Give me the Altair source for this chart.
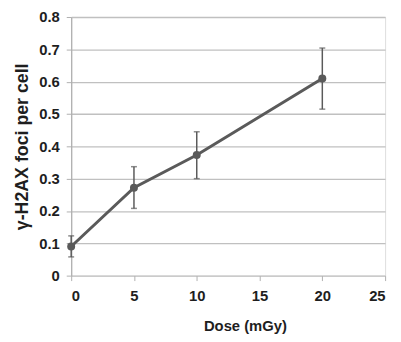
import altair as alt
import pandas as pd

dose = [0, 5, 10, 20]
foci = [0.09, 0.272, 0.373, 0.61]
err_low = [0.058, 0.208, 0.300, 0.515]
err_high = [0.123, 0.337, 0.445, 0.704]

df = pd.DataFrame({"dose": dose, "foci": foci, "lo": err_low, "hi": err_high})

FONT = "Liberation Sans"
DARK = "#5a5a5a"
TXT = "#1e1e1e"

x_axis = alt.Axis(values=[0, 5, 10, 15, 20, 25], title="Dose (mGy)", grid=False,
                  domain=False, tickSize=5, tickColor="#b0b0b0", labelPadding=8,
                  labelFontSize=15, labelFontWeight="bold", labelColor=TXT,
                  labelFont=FONT, titleFont=FONT, titleFontSize=15, labelOverlap=False,
                  titleFontWeight="bold", titleColor=TXT, titlePadding=16,
                  titleX=176)
y_axis = alt.Axis(values=[0, 0.1, 0.2, 0.3, 0.4, 0.5, 0.6, 0.7, 0.8], format=".1~f",
                  title="γ-H2AX foci per cell", grid=True, gridColor="#c0c0c0",
                  gridWidth=1.3, domainColor="#b0b0b0", domainWidth=1.3,
                  tickSize=5, tickColor="#b0b0b0", labelPadding=7, labelOverlap=False,
                  labelFontSize=15, labelFontWeight="bold", labelColor=TXT,
                  labelFont=FONT, titleFont=FONT, titleFontSize=18,
                  titleFontWeight="bold", titleColor=TXT, titlePadding=7)
xs = alt.Scale(domain=[0, 25], nice=False)
ys = alt.Scale(domain=[0, 0.8], nice=False)

x = alt.X("dose:Q", scale=xs, axis=x_axis)

base = alt.Chart(df)
bars = base.mark_rule(color=DARK, strokeWidth=1.5).encode(
    x=x, y=alt.Y("lo:Q", scale=ys, axis=y_axis), y2="hi:Q")
cap_lo = base.mark_tick(color=DARK, thickness=1.5, size=6, orient="horizontal").encode(
    x=x, y=alt.Y("lo:Q", scale=ys, axis=y_axis))
cap_hi = base.mark_tick(color=DARK, thickness=1.5, size=6, orient="horizontal").encode(
    x=x, y=alt.Y("hi:Q", scale=ys, axis=y_axis))
line = base.mark_line(color=DARK, strokeWidth=3).encode(
    x=x, y=alt.Y("foci:Q", scale=ys, axis=y_axis))
pts = base.mark_circle(color=DARK, size=65, opacity=1).encode(
    x=x, y=alt.Y("foci:Q", scale=ys, axis=y_axis))

chart = alt.layer(bars, cap_lo, cap_hi, line, pts).properties(
    width=318, height=262,
    autosize=alt.AutoSizeParams(type="none"),
    padding={"left": 64, "top": 7, "right": 8, "bottom": 57},
).configure_view(stroke=None).configure(background="white")

chart.save("out.html", embed_options={"renderer": "svg", "actions": False})
